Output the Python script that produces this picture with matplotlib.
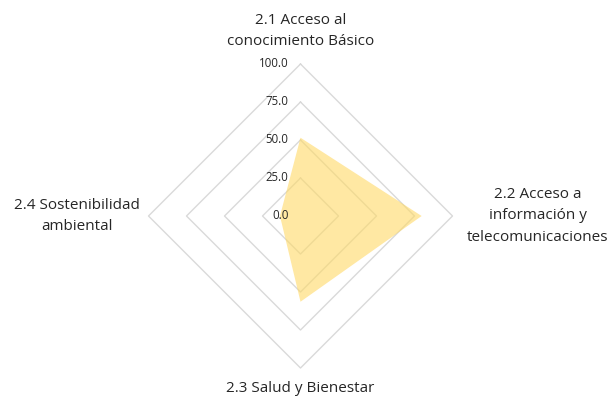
import numpy as np
import matplotlib
matplotlib.use('Agg')
import matplotlib.pyplot as plt

plt.rcParams['font.family'] = ['Open Sans', 'DejaVu Sans']

# Datos del gráfico radial
categorias = ['2.1 Acceso al\nconocimiento Básico',
              '2.2 Acceso a\ninformación y\ntelecomunicaciones',
              '2.3 Salud y Bienestar',
              '2.4 Sostenibilidad\nambiental']
valores = [51.5, 79.7, 56.4, 13.5]
niveles = [25, 50, 75, 100]
etiquetas_niveles = ['0.0', '25.0', '50.0', '75.0', '100.0']

# angulos: arriba, derecha, abajo, izquierda (sentido horario)
angulos = np.array([0, 90, 180, 270]) * np.pi / 180

def a_xy(radios):
    r = np.asarray(radios, dtype=float)
    return r * np.sin(angulos), r * np.cos(angulos)

fig = plt.figure(figsize=(6.08, 4.0), dpi=100)
ax = fig.add_axes([0, 0, 1, 1])
escala = 1.52  # px por unidad
ax.set_xlim(-300.5 / escala, (608 - 300.5) / escala)
ax.set_ylim(-184 / escala, 216 / escala)
ax.axis('off')

gris = '#D9D9D9'
texto = '#262626'

# rejilla en forma de rombo
for n in niveles:
    x, y = a_xy([n] * 4)
    ax.plot(np.append(x, x[0]), np.append(y, y[0]), color=gris, lw=1.0, zorder=1)

# serie
x, y = a_xy(valores)
ax.fill(x, y, color='#FFD966', alpha=0.6, lw=0, zorder=2)

# etiquetas de escala
for i, lab in enumerate(etiquetas_niveles):
    ax.text(-8, i * 25, lab, ha='right', va='center', fontsize=8.3, color=texto, zorder=3)

# etiquetas de categorias
kw = dict(ha='center', va='center', fontsize=11, color=texto, linespacing=1.55)
ax.text(0, 121.4, categorias[0], **kw)
ax.text(156, 0, categorias[1], **kw)
ax.text(0, -113.2, categorias[2], **kw)
ax.text(-147, 0, categorias[3], **kw)

fig.savefig('out.png', dpi=100)
